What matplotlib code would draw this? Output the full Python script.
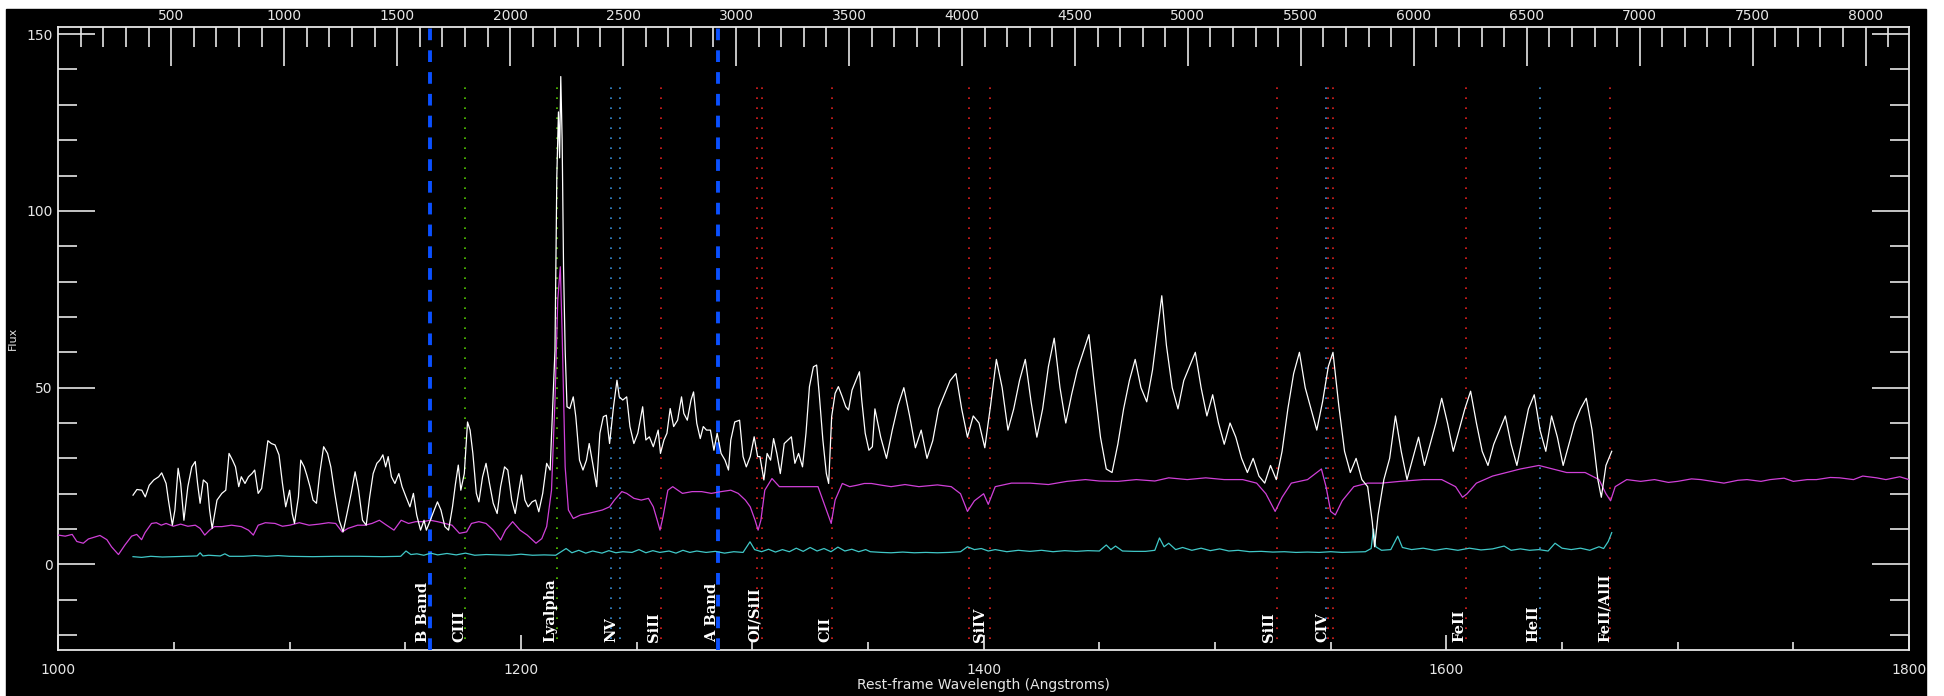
import matplotlib
matplotlib.use("Agg")
import matplotlib.pyplot as plt
from matplotlib.patches import Rectangle

white_blue = [(1032.3, 19.6), (1034.0, 21.2), (1036.1, 21.0), (1037.6, 19.1), (1039.3, 22.4), (1041.3, 23.9),
              (1043.4, 24.8), (1044.7, 25.9), (1046.6, 22.9), (1047.6, 18.2), (1049.3, 11.1), (1050.4, 15.4),
              (1051.8, 27.2), (1052.9, 22.9), (1054.3, 12.5), (1056.0, 22.0), (1057.7, 27.6), (1059.2, 29.1),
              (1060.2, 22.9), (1061.3, 17.3), (1062.7, 23.9), (1064.4, 22.9), (1065.4, 15.4), (1066.5, 10.2),
              (1068.6, 18.2), (1070.7, 20.1), (1072.4, 21.0), (1073.8, 31.4), (1075.3, 29.5), (1076.6, 27.6),
              (1078.0, 22.0), (1079.1, 24.8), (1080.7, 22.9), (1082.2, 24.8), (1083.7, 25.7), (1084.9, 26.7),
              (1086.4, 20.1), (1087.9, 21.5), (1089.5, 29.5), (1090.6, 35.0), (1092.1, 34.2), (1093.7, 33.8),
              (1095.4, 31.0), (1096.9, 22.9), (1098.3, 16.3), (1100.0, 21.0), (1101.1, 14.4), (1102.1, 11.6),
              (1103.8, 19.1), (1104.8, 29.5), (1106.3, 27.6), (1107.4, 25.3), (1108.8, 22.0), (1110.1, 18.2),
              (1111.6, 17.3), (1113.0, 25.7), (1114.7, 33.3), (1116.4, 31.4), (1117.8, 27.6), (1119.5, 20.1),
              (1121.4, 12.5), (1123.1, 9.2), (1124.8, 14.4), (1126.6, 20.1), (1128.3, 26.2), (1129.8, 21.0),
              (1131.5, 12.5), (1133.1, 11.1), (1134.6, 19.1), (1136.1, 25.7), (1137.7, 28.6), (1139.0, 29.5),
              (1140.3, 31.0), (1141.5, 27.6), (1142.6, 30.5), (1144.0, 24.8), (1145.5, 22.9), (1147.2, 25.7),
              (1148.6, 22.0), (1150.3, 19.1), (1152.0, 16.3), (1153.5, 20.1), (1154.9, 14.0), (1156.6, 9.7),
              (1158.1, 12.5), (1159.1, 9.7), (1160.8, 12.5), (1162.5, 15.4), (1163.9, 17.7), (1165.4, 15.4),
              (1167.1, 10.7), (1168.7, 9.7), (1170.4, 16.3), (1171.7, 22.9), (1172.9, 28.1), (1174.0, 21.0),
              (1175.5, 25.7), (1176.9, 40.3), (1178.0, 38.0), (1179.2, 31.4), (1180.7, 20.1), (1181.8, 17.7),
              (1183.4, 24.8), (1184.9, 28.6), (1186.4, 22.9), (1188.0, 17.3), (1189.7, 14.4), (1191.2, 22.0),
              (1192.9, 27.6), (1194.3, 26.7), (1196.0, 18.2), (1197.5, 14.4), (1198.9, 20.1), (1200.2, 25.3),
              (1201.7, 18.2), (1203.1, 16.3), (1204.8, 17.7), (1206.3, 18.2), (1207.7, 14.9), (1209.4, 20.1),
              (1211.1, 28.6), (1212.6, 26.7), (1213.6, 42.7), (1214.7, 60.6), (1215.5, 110), (1216.2, 128),
              (1216.7, 115), (1217.2, 138), (1217.8, 120), (1218.4, 84), (1219.1, 60.6), (1219.9, 44.6),
              (1221.1, 44.1), (1222.6, 47.4), (1223.7, 41.8), (1225.3, 29.5), (1226.8, 26.7), (1228.3, 29.5),
              (1229.5, 34.2), (1231.0, 28.6), (1232.7, 22.0), (1234.1, 37.1), (1235.6, 41.8), (1236.9, 42.2),
              (1238.3, 34.2), (1240.0, 44.6), (1241.5, 52.1), (1242.5, 47.4), (1244.0, 46.5), (1245.7, 47.4),
              (1247.1, 39.0), (1248.8, 34.2), (1250.5, 37.1), (1252.6, 44.6), (1254.0, 35.2), (1255.5, 36.1),
              (1257.2, 33.3), (1259.3, 38.0), (1260.3, 31.4), (1261.8, 35.2), (1263.1, 37.1), (1264.5, 44.1),
              (1266.0, 39.0), (1267.7, 40.8), (1269.4, 47.4), (1270.4, 42.7), (1271.9, 40.8), (1273.5, 46.5),
              (1274.6, 48.8), (1276.0, 39.9), (1277.5, 35.6), (1278.8, 39.0), (1280.2, 38.0), (1281.9, 38.0),
              (1283.4, 32.3), (1284.8, 37.1), (1286.5, 31.4), (1288.2, 29.5), (1289.7, 26.7), (1290.7, 35.2),
              (1292.4, 40.3), (1294.5, 40.8), (1296.0, 30.5), (1297.4, 27.6), (1299.1, 30.5), (1300.8, 36.1),
              (1302.3, 30.5), (1303.3, 30.5), (1305.0, 23.9), (1306.4, 31.4), (1307.9, 29.5), (1309.2, 35.6),
              (1310.6, 31.4), (1312.1, 25.7), (1313.8, 34.2), (1315.4, 35.2), (1316.9, 36.1), (1318.4, 28.6),
              (1320.0, 31.4), (1321.7, 27.6), (1323.2, 37.1), (1324.7, 50.3), (1326.4, 55.9), (1327.8, 56.4),
              (1328.9, 48.4), (1330.5, 35.2), (1332.0, 25.7), (1333.0, 22.9), (1334.3, 41.8), (1335.8, 48.4),
              (1337.2, 50.3), (1338.9, 47.4), (1340.4, 44.6), (1341.6, 43.7), (1343.1, 49.3), (1344.8, 52.1),
              (1346.3, 54.5), (1347.3, 46.5), (1348.8, 37.1), (1350.4, 32.3), (1351.9, 33.3)]

white_red = [(1353, 44), (1355.5, 36), (1358, 30), (1360.5, 38), (1363, 45), (1365.5, 50), (1368, 42),
             (1370.5, 33), (1373, 38), (1375.5, 30), (1378, 35), (1380.5, 44), (1383, 48), (1385.5, 52),
             (1388, 54), (1390.5, 44), (1393, 36), (1395.5, 42), (1398, 40), (1400.5, 33), (1403, 45),
             (1405.5, 58), (1408, 50), (1410.5, 38), (1413, 44), (1415.5, 52), (1418, 58), (1420.5, 46),
             (1423, 36), (1425.5, 44), (1428, 56), (1430.5, 64), (1433, 50), (1435.5, 40), (1438, 48),
             (1440.5, 55), (1443, 60), (1445.5, 65), (1448, 50), (1450.5, 36), (1453, 27), (1455.5, 26),
             (1458, 34), (1460.5, 44), (1463, 52), (1465.5, 58), (1468, 50), (1470.5, 46), (1473, 55),
             (1475.5, 68), (1477, 76), (1479, 62), (1481.5, 50), (1484, 44), (1486.5, 52), (1489, 56),
             (1491.5, 60), (1494, 50), (1496.5, 42), (1499, 48), (1501.5, 40), (1504, 34), (1506.5, 40),
             (1509, 36), (1511.5, 30), (1514, 26), (1516.5, 30), (1519, 25), (1521.5, 23), (1524, 28),
             (1526.5, 24), (1529, 32), (1531.5, 44), (1534, 54), (1536.5, 60), (1539, 50), (1541.5, 44),
             (1544, 38), (1546.5, 46), (1549, 56), (1551, 60), (1553.5, 45), (1556, 32), (1558.5, 26),
             (1561, 30), (1563.5, 24), (1566, 22), (1568, 12), (1569, 5), (1570.5, 14), (1573, 24),
             (1575.5, 30), (1578, 42), (1580.5, 32), (1583, 24), (1585.5, 30), (1588, 36), (1590.5, 28),
             (1593, 34), (1595.5, 40), (1598, 47), (1600.5, 40), (1603, 32), (1605.5, 38), (1608, 44),
             (1610.5, 49), (1613, 40), (1615.5, 32), (1618, 28), (1620.5, 34), (1623, 38), (1625.5, 42),
             (1628, 34), (1630.5, 28), (1633, 36), (1635.5, 44), (1638, 48), (1640.5, 38), (1643, 32),
             (1645.5, 42), (1648, 36), (1650.5, 28), (1653, 34), (1655.5, 40), (1658, 44), (1660.5, 47),
             (1663, 38), (1665.5, 24), (1667, 19), (1669, 28), (1671.5, 32)]

# composite template (magenta)
template = [(1000, 8.3), (1003, 8.0), (1006, 8.5), (1008, 6.5), (1010.8, 6.0), (1013, 7.2), (1016, 7.8),
            (1018, 8.2), (1021, 7.0), (1023, 5.0), (1026, 2.8), (1028.8, 5.5), (1031.7, 8.0), (1033.9, 8.5),
            (1036, 7.0), (1037.5, 9.0), (1040.3, 11.6), (1042.4, 11.8), (1044.5, 11.1), (1046.6, 11.6),
            (1049.7, 10.8), (1052.9, 11.4), (1056.0, 10.8), (1059.2, 11.1), (1061.3, 10.2), (1063.3, 8.3),
            (1065.4, 9.7), (1067.5, 10.7), (1070.7, 10.7), (1074.9, 11.1), (1079.1, 10.7), (1082.2, 9.7),
            (1084.3, 8.3), (1086.4, 11.1), (1089.5, 11.8), (1093.7, 11.6), (1096.9, 10.8), (1100.0, 11.1),
            (1104.2, 11.8), (1108.4, 11.1), (1112.6, 11.4), (1116.8, 11.8), (1119.9, 11.6), (1122.7, 9.2),
            (1125.2, 10.2), (1129.4, 11.1), (1132.5, 11.1), (1135.6, 11.6), (1138.8, 12.5), (1141.9, 11.1),
            (1145.1, 9.7), (1148.2, 12.5), (1151.4, 11.6), (1154.5, 12.1), (1157.7, 12.1), (1160.8, 12.5),
            (1163.9, 12.1), (1167.1, 11.6), (1170.2, 11.1), (1173.4, 8.8), (1176.5, 9.2), (1178.6, 11.6),
            (1181.8, 12.1), (1184.9, 11.6), (1188.0, 9.7), (1191.2, 6.9), (1193.3, 9.7), (1196.4, 12.1),
            (1199.6, 9.7), (1202.7, 8.3), (1206.5, 6.0), (1209.0, 7.3), (1211.1, 10.7), (1213.2, 21.0),
            (1214.7, 46.5), (1215.9, 74.8), (1217.0, 84.2), (1217.8, 65.3), (1219.1, 27.6), (1220.5, 15.4),
            (1222.6, 13.0), (1225.8, 14.0), (1228.9, 14.4), (1232.0, 14.9), (1235.2, 15.4), (1238.3, 16.3),
            (1240.4, 18.2), (1243.6, 20.6), (1245.7, 20.1), (1248.8, 18.7), (1252.0, 18.2), (1255.1, 18.7),
            (1257.2, 16.3), (1258.9, 12.5), (1260.1, 9.7), (1261.4, 13.5), (1263.5, 21.0), (1265.6, 22.0),
            (1269.8, 20.1), (1274.0, 20.6), (1278.1, 20.6), (1282.3, 20.1), (1286.5, 20.6), (1290.7, 21.0),
            (1293.9, 20.1), (1297.0, 18.2), (1299.1, 16.3), (1301.2, 12.5), (1302.5, 9.7), (1303.7, 12.5),
            (1305.4, 21.0), (1308.5, 24.3), (1311.7, 22.0), (1315.9, 22.0), (1320.0, 22.0), (1324.3, 22.0),
            (1328.4, 22.0), (1330.5, 18.2), (1332.6, 14.4), (1334.1, 11.6), (1335.8, 18.2), (1338.9, 22.9),
            (1342.1, 22.0), (1345.2, 22.4), (1348.4, 22.9), (1351.5, 22.9), (1356, 22.4), (1360, 22.0),
            (1366, 22.6), (1372, 22.0), (1380, 22.5), (1386, 22.0), (1390, 20.0), (1393, 15.0), (1396, 18.0),
            (1400, 20.0), (1402, 17.0), (1405, 22.0), (1412, 23.0), (1420, 23.0), (1428, 22.6), (1436, 23.5),
            (1444, 24.0), (1450, 23.6), (1458, 23.5), (1466, 24.0), (1474, 23.6), (1480, 24.5), (1488, 24.0),
            (1496, 24.5), (1504, 24.0), (1512, 24.0), (1518, 23.0), (1522, 20.0), (1526, 15.0), (1529, 19.0),
            (1533, 23.0), (1540, 24.0), (1544, 26.0), (1546, 27.0), (1548, 22.0), (1550, 15.0), (1552, 14.0),
            (1555, 18.0), (1560, 22.0), (1566, 23.0), (1572, 23.0), (1580, 23.5), (1590, 24.0), (1598, 24.0),
            (1604, 22.0), (1607, 19.0), (1609, 20.0), (1613, 23.0), (1620, 25.0), (1626, 26.0), (1632, 27.0),
            (1636, 27.5), (1640, 28.0), (1646, 27.0), (1652, 26.0), (1660, 26.0), (1666, 24.0), (1669, 20.0),
            (1671, 18.0), (1673, 22.0), (1678, 24.0), (1684, 23.5), (1690, 24.0), (1696, 23.2), (1700, 23.5),
            (1706, 24.2), (1710, 24.0), (1716, 23.4), (1720, 23.0), (1726, 23.8), (1730, 24.0), (1736, 23.5),
            (1740, 24.0), (1746, 24.4), (1750, 23.5), (1756, 24.0), (1760, 24.0), (1766, 24.6), (1770, 24.5),
            (1776, 24.0), (1780, 25.0), (1786, 24.5), (1790, 24.0), (1796, 24.8), (1800, 24.0)]

# error spectrum (cyan)
error = [(1032.3, 2.2), (1036, 2.0), (1040, 2.3), (1045, 2.1), (1050, 2.2), (1055, 2.3), (1060, 2.4),
         (1061.3, 3.3), (1062.5, 2.4), (1065, 2.6), (1070, 2.4), (1072, 3.0), (1074, 2.3), (1080, 2.3),
         (1085, 2.5), (1090, 2.3), (1095, 2.5), (1100, 2.3), (1110, 2.2), (1120, 2.3), (1130, 2.3),
         (1140, 2.2), (1148, 2.3), (1150.3, 3.8), (1152.4, 2.8), (1155, 3.0), (1158, 2.6), (1161, 3.2),
         (1164, 2.7), (1168, 3.1), (1172, 2.7), (1176, 3.2), (1180, 2.6), (1185, 2.8), (1190, 2.7),
         (1195, 2.6), (1200, 2.9), (1205, 2.6), (1210, 2.7), (1215, 2.6), (1219.5, 4.5), (1222, 3.3),
         (1225, 4.0), (1228, 3.2), (1231, 3.8), (1235, 3.2), (1238, 3.9), (1241, 3.3), (1244, 3.6),
         (1248, 3.4), (1251, 4.2), (1254, 3.3), (1257, 3.9), (1260, 3.4), (1264, 3.8), (1267, 3.2),
         (1270, 4.0), (1273, 3.4), (1276, 3.8), (1280, 3.4), (1284, 3.7), (1288, 3.2), (1292, 3.6),
         (1296, 3.4), (1299, 6.4), (1301, 4.2), (1304, 3.6), (1307, 4.3), (1310, 3.5), (1313, 4.2),
         (1316, 3.6), (1319, 4.6), (1322, 3.7), (1325, 4.8), (1328, 3.8), (1331, 4.5), (1334, 3.6),
         (1337, 4.9), (1340, 3.8), (1343, 4.3), (1346, 3.6), (1349, 4.2), (1351, 3.6), (1356, 3.4),
         (1360, 3.3), (1365, 3.5), (1370, 3.3), (1375, 3.4), (1380, 3.3), (1385, 3.4), (1390, 3.6),
         (1393, 5.0), (1396, 4.2), (1399, 4.5), (1402, 3.8), (1405, 4.2), (1410, 3.6), (1415, 4.0),
         (1420, 3.7), (1425, 4.0), (1430, 3.6), (1435, 3.9), (1440, 3.7), (1445, 3.9), (1450, 3.8),
         (1453, 5.5), (1455, 4.2), (1457, 5.2), (1460, 3.8), (1465, 3.7), (1470, 3.7), (1474, 4.0),
         (1476, 7.5), (1478, 5.0), (1480, 6.0), (1483, 4.2), (1486, 4.8), (1490, 4.0), (1494, 4.6),
         (1498, 3.9), (1502, 4.4), (1506, 3.8), (1510, 4.0), (1515, 3.6), (1520, 3.7), (1525, 3.5),
         (1530, 3.6), (1535, 3.4), (1540, 3.5), (1545, 3.4), (1550, 3.6), (1555, 3.4), (1560, 3.5),
         (1565, 3.6), (1567.5, 4.5), (1568.5, 10.0), (1569.5, 5.0), (1572, 4.0), (1576, 4.2), (1579, 8.0),
         (1581, 4.8), (1585, 4.2), (1590, 4.6), (1595, 4.0), (1600, 4.5), (1605, 4.0), (1610, 4.6),
         (1615, 4.1), (1620, 4.4), (1625, 5.2), (1628, 4.0), (1632, 4.4), (1636, 4.0), (1640, 4.2),
         (1644, 3.8), (1647, 6.0), (1650, 4.6), (1654, 4.2), (1658, 4.6), (1662, 4.0), (1666, 5.0),
         (1668, 4.5), (1670, 6.5), (1671.5, 9.0)]

# line identifications
line_names = ["CIII", "Lyalpha", "NV", "SiII", "OI/SiII", "CII", "SiIV", "SiII", "CIV",
              "FeII", "HeII", "FeII/AlII"]
line_label_x = [1173.5, 1212.5, 1239, 1257.5, 1301, 1331.5, 1398.5, 1523.5, 1546.5, 1605.5, 1637.5, 1668.5]
line_waves = [[1175.7], [1215.7], [1238.8, 1242.8], [1260.4], [1302.2, 1304.4], [1334.5],
              [1393.8, 1402.8], [1526.7], [1548.2, 1548.9, 1550.8], [1608.5], [1640.4], [1670.8]]
line_colors = [["#55cc00"], ["#55cc00"], ["#3a8fd8", "#3a8fd8"], ["#e02020"], ["#e02020", "#e02020"],
               ["#e02020"], ["#e02020", "#e02020"], ["#e02020"], ["#3a8fd8", "#e02020", "#e02020"],
               ["#e02020"], ["#3a8fd8"], ["#e02020"]]

band_names = ["B Band", "A Band"]
band_waves = [1160.5, 1285]
band_label_x = [1157.5, 1282.5]

fig = plt.figure(figsize=(19.44, 6.96), dpi=100, facecolor="white")
fig.patches.append(Rectangle((6 / 1944, 0), 1920 / 1944, 687 / 696, transform=fig.transFigure,
                             color="black", zorder=-10))

ax = fig.add_axes([58.3 / 1944, 1 - 650 / 696, (1909 - 58.3) / 1944, (650 - 26.7) / 696])
ax.set_facecolor("black")
ax.set_xlim(1000, 1800)
ax.set_ylim(-24.2, 152.1)

fg = "#e6e6e6"
for s in ax.spines.values():
    s.set_color(fg)
    s.set_linewidth(1.3)

ax.set_xticks([1000, 1200, 1400, 1600, 1800])
ax.set_xticks(range(1000, 1801, 50), minor=True)
ax.set_yticks([0, 50, 100, 150])
ax.set_yticks(range(-20, 151, 10), minor=True)
ax.tick_params(axis="x", which="major", direction="in", length=11, width=1.2, color=fg,
               labelcolor=fg, labelsize=10, pad=9)
ax.tick_params(axis="x", which="minor", direction="in", length=5.5, width=1.2, color=fg)
ax.tick_params(axis="y", which="major", direction="in", length=26.5, width=1.2, color=fg,
               labelcolor=fg, labelsize=10, right=True, pad=4)
ax.tick_params(axis="y", which="minor", direction="in", length=13.5, width=1.2, color=fg, right=True)
ax.set_xlabel("Rest-frame Wavelength (Angstroms)", color=fg, fontsize=10, labelpad=1)
fig.text(13 / 1944, 1 - 338 / 696, "Flux", rotation=90, color=fg, fontsize=8, ha="center", va="center")

# top axis
top = ax.twiny()
top.set_xlim(0, 8192)
top.set_xticks(range(500, 8001, 500))
top.set_xticks(range(100, 8192, 100), minor=True)
top.tick_params(axis="x", which="major", direction="in", length=28, width=1.2, color=fg,
                labelcolor=fg, labelsize=10, pad=3)
top.tick_params(axis="x", which="minor", direction="in", length=14.5, width=1.2, color=fg)
for s in top.spines.values():
    s.set_visible(False)

# line markers
for waves, cols in zip(line_waves, line_colors):
    for w, c in zip(waves, cols):
        ax.plot([w, w], [-21, 137], color=c, lw=1.2, linestyle=(0, (1, 5)), zorder=2)

for w in band_waves:
    ax.plot([w, w], [-24.2, 152.1], color="#0a50ff", lw=2.8, linestyle=(0, (3.0, 2.6)), zorder=3)

ax.plot([p[0] for p in template], [p[1] for p in template], color="#d040d8", lw=0.9, zorder=4)
ax.plot([p[0] for p in error], [p[1] for p in error], color="#40c8c8", lw=0.9, zorder=4)
white = white_blue + white_red
ax.plot([p[0] for p in white], [p[1] for p in white], color="white", lw=0.9, zorder=5)

for name, x in zip(line_names + band_names, line_label_x + band_label_x):
    ax.text(x, -22, name, rotation=90, ha="center", va="bottom", color="white",
            fontsize=10.5, fontweight="bold", family="DejaVu Serif", zorder=6)

fig.savefig("out.png", dpi=100, facecolor=fig.get_facecolor())
